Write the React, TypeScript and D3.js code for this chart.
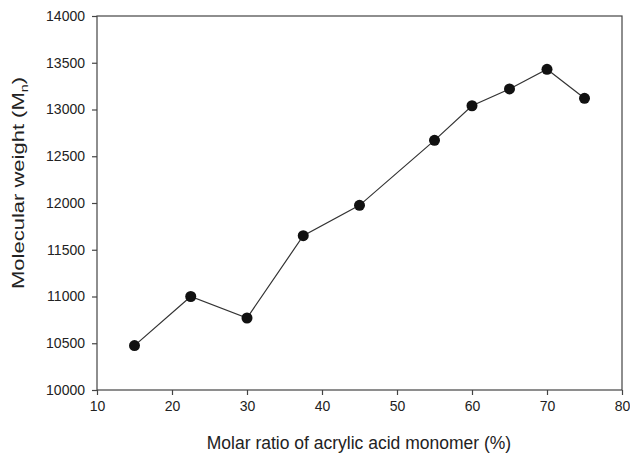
import * as d3 from "d3";
import { useEffect, useRef } from "react";

// molar ratio of acrylic acid (%) vs. Mn
const ratios = [15, 22.5, 30, 37.5, 45, 55, 60, 65, 70, 75];
const weights = [10475, 11000, 10770, 11650, 11975, 12670, 13040, 13220, 13430, 13120];
const xTicks = [10, 20, 30, 40, 50, 60, 70, 80];
const yTicks = [10000, 10500, 11000, 11500, 12000, 12500, 13000, 13500, 14000];

const W = 630;
const H = 453;
const margin = { left: 97, right: 8, top: 16, bottom: 63 };

const draw = (svgEl: SVGSVGElement) => {
    const svg = d3.select(svgEl);
    svg.selectAll("*").remove();

    const x = d3.scaleLinear().domain([10, 80]).range([margin.left, W - margin.right]);
    const y = d3.scaleLinear().domain([10000, 14000]).range([H - margin.bottom, margin.top]);
    const axisColor = "#444";
    const font = "'Liberation Sans', Arial, sans-serif";

    // frame
    svg.append("rect")
        .attr("x", x(10)).attr("y", y(14000))
        .attr("width", x(80) - x(10)).attr("height", y(10000) - y(14000))
        .attr("fill", "none").attr("stroke", axisColor).attr("stroke-width", 1.2);

    const xa = svg.append("g")
        .attr("transform", `translate(0,${y(10000)})`)
        .call(d3.axisBottom(x).tickValues(xTicks).tickSize(5).tickPadding(6).tickFormat(d3.format("d")));
    const ya = svg.append("g")
        .attr("transform", `translate(${x(10)},0)`)
        .call(d3.axisLeft(y).tickValues(yTicks).tickSize(5).tickPadding(7).tickFormat(d3.format("d")));

    [xa, ya].forEach(g => {
        g.select(".domain").remove();
        g.selectAll(".tick line").attr("stroke", axisColor).attr("stroke-width", 1.2);
        g.selectAll(".tick text").attr("fill", "#222").style("font-family", font).style("font-size", "14px");
    });

    const line = d3.line<number>()
        .x((d, i) => x(ratios[i]))
        .y(d => y(d));

    svg.append("path")
        .attr("d", line(weights))
        .attr("fill", "none")
        .attr("stroke", "#333")
        .attr("stroke-width", 1.2);

    svg.append("g").selectAll("circle")
        .data(weights)
        .join("circle")
        .attr("cx", (d, i) => x(ratios[i]))
        .attr("cy", d => y(d))
        .attr("r", 5.5)
        .attr("fill", "#111");

    svg.append("text")
        .attr("x", 359)
        .attr("y", 449)
        .attr("text-anchor", "middle")
        .attr("fill", "#222")
        .style("font-family", font)
        .style("font-size", "17.5px")
        .text("Molar ratio of acrylic acid monomer (%)");

    const yl = svg.append("text")
        .attr("transform", `translate(24,183) rotate(-90)`)
        .attr("text-anchor", "middle")
        .attr("textLength", 212)
        .attr("lengthAdjust", "spacingAndGlyphs")
        .attr("fill", "#222")
        .style("font-family", font)
        .style("font-size", "17px");
    yl.append("tspan").text("Molecular weight (M");
    yl.append("tspan").attr("font-size", "11px").attr("dy", 4).text("n");
    yl.append("tspan").attr("dy", -4).text(")");
};

export default function App() {
    const ref = useRef<SVGSVGElement>(null);
    useEffect(() => {
        if (ref.current) draw(ref.current);
    }, []);
    return (
        <svg ref={ref} width={W} height={H}
            style={{ position: "absolute", left: 0, top: 0, background: "#fff" }} />
    );
}
